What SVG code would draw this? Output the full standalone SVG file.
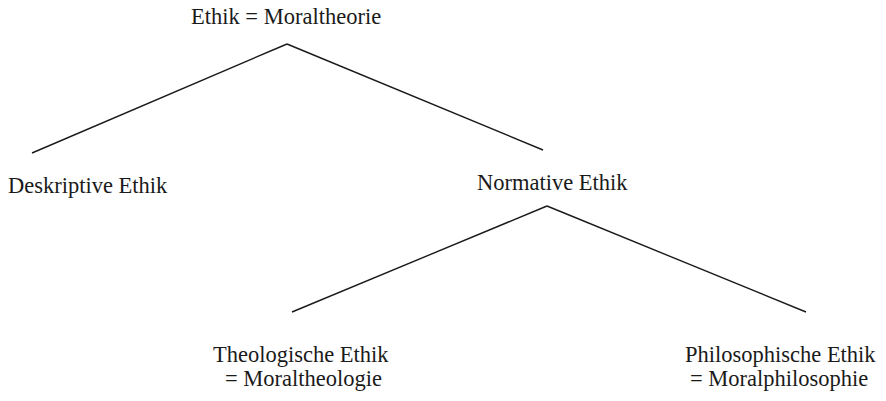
<svg xmlns="http://www.w3.org/2000/svg" width="886" height="401" viewBox="0 0 886 401">
<style>
text{font-family:"Liberation Serif","DejaVu Serif",serif;font-size:22.5px;fill:#1a1a1a}
.c line{stroke:#1a1a1a;stroke-width:1.4;fill:none}
</style>
<rect width="886" height="401" fill="#fff"/>
<g class="c" id="connectors">
<line x1="287" y1="44" x2="32" y2="153"/>
<line x1="287" y1="44" x2="543" y2="150"/>
<line x1="547" y1="206" x2="292" y2="312"/>
<line x1="547" y1="206" x2="806" y2="312"/>
</g>
<g id="n-ethik"><text x="191" y="24">Ethik = Moraltheorie</text></g>
<g id="n-deskriptiv"><text x="8" y="193">Deskriptive Ethik</text></g>
<g id="n-normativ"><text x="477" y="190">Normative Ethik</text></g>
<g id="n-theol">
<text x="213" y="362">Theologische Ethik</text>
<text x="225" y="386">= Moraltheologie</text>
</g>
<g id="n-philo">
<text x="685" y="362">Philosophische Ethik</text>
<text x="690" y="386">= Moralphilosophie</text>
</g>
</svg>
